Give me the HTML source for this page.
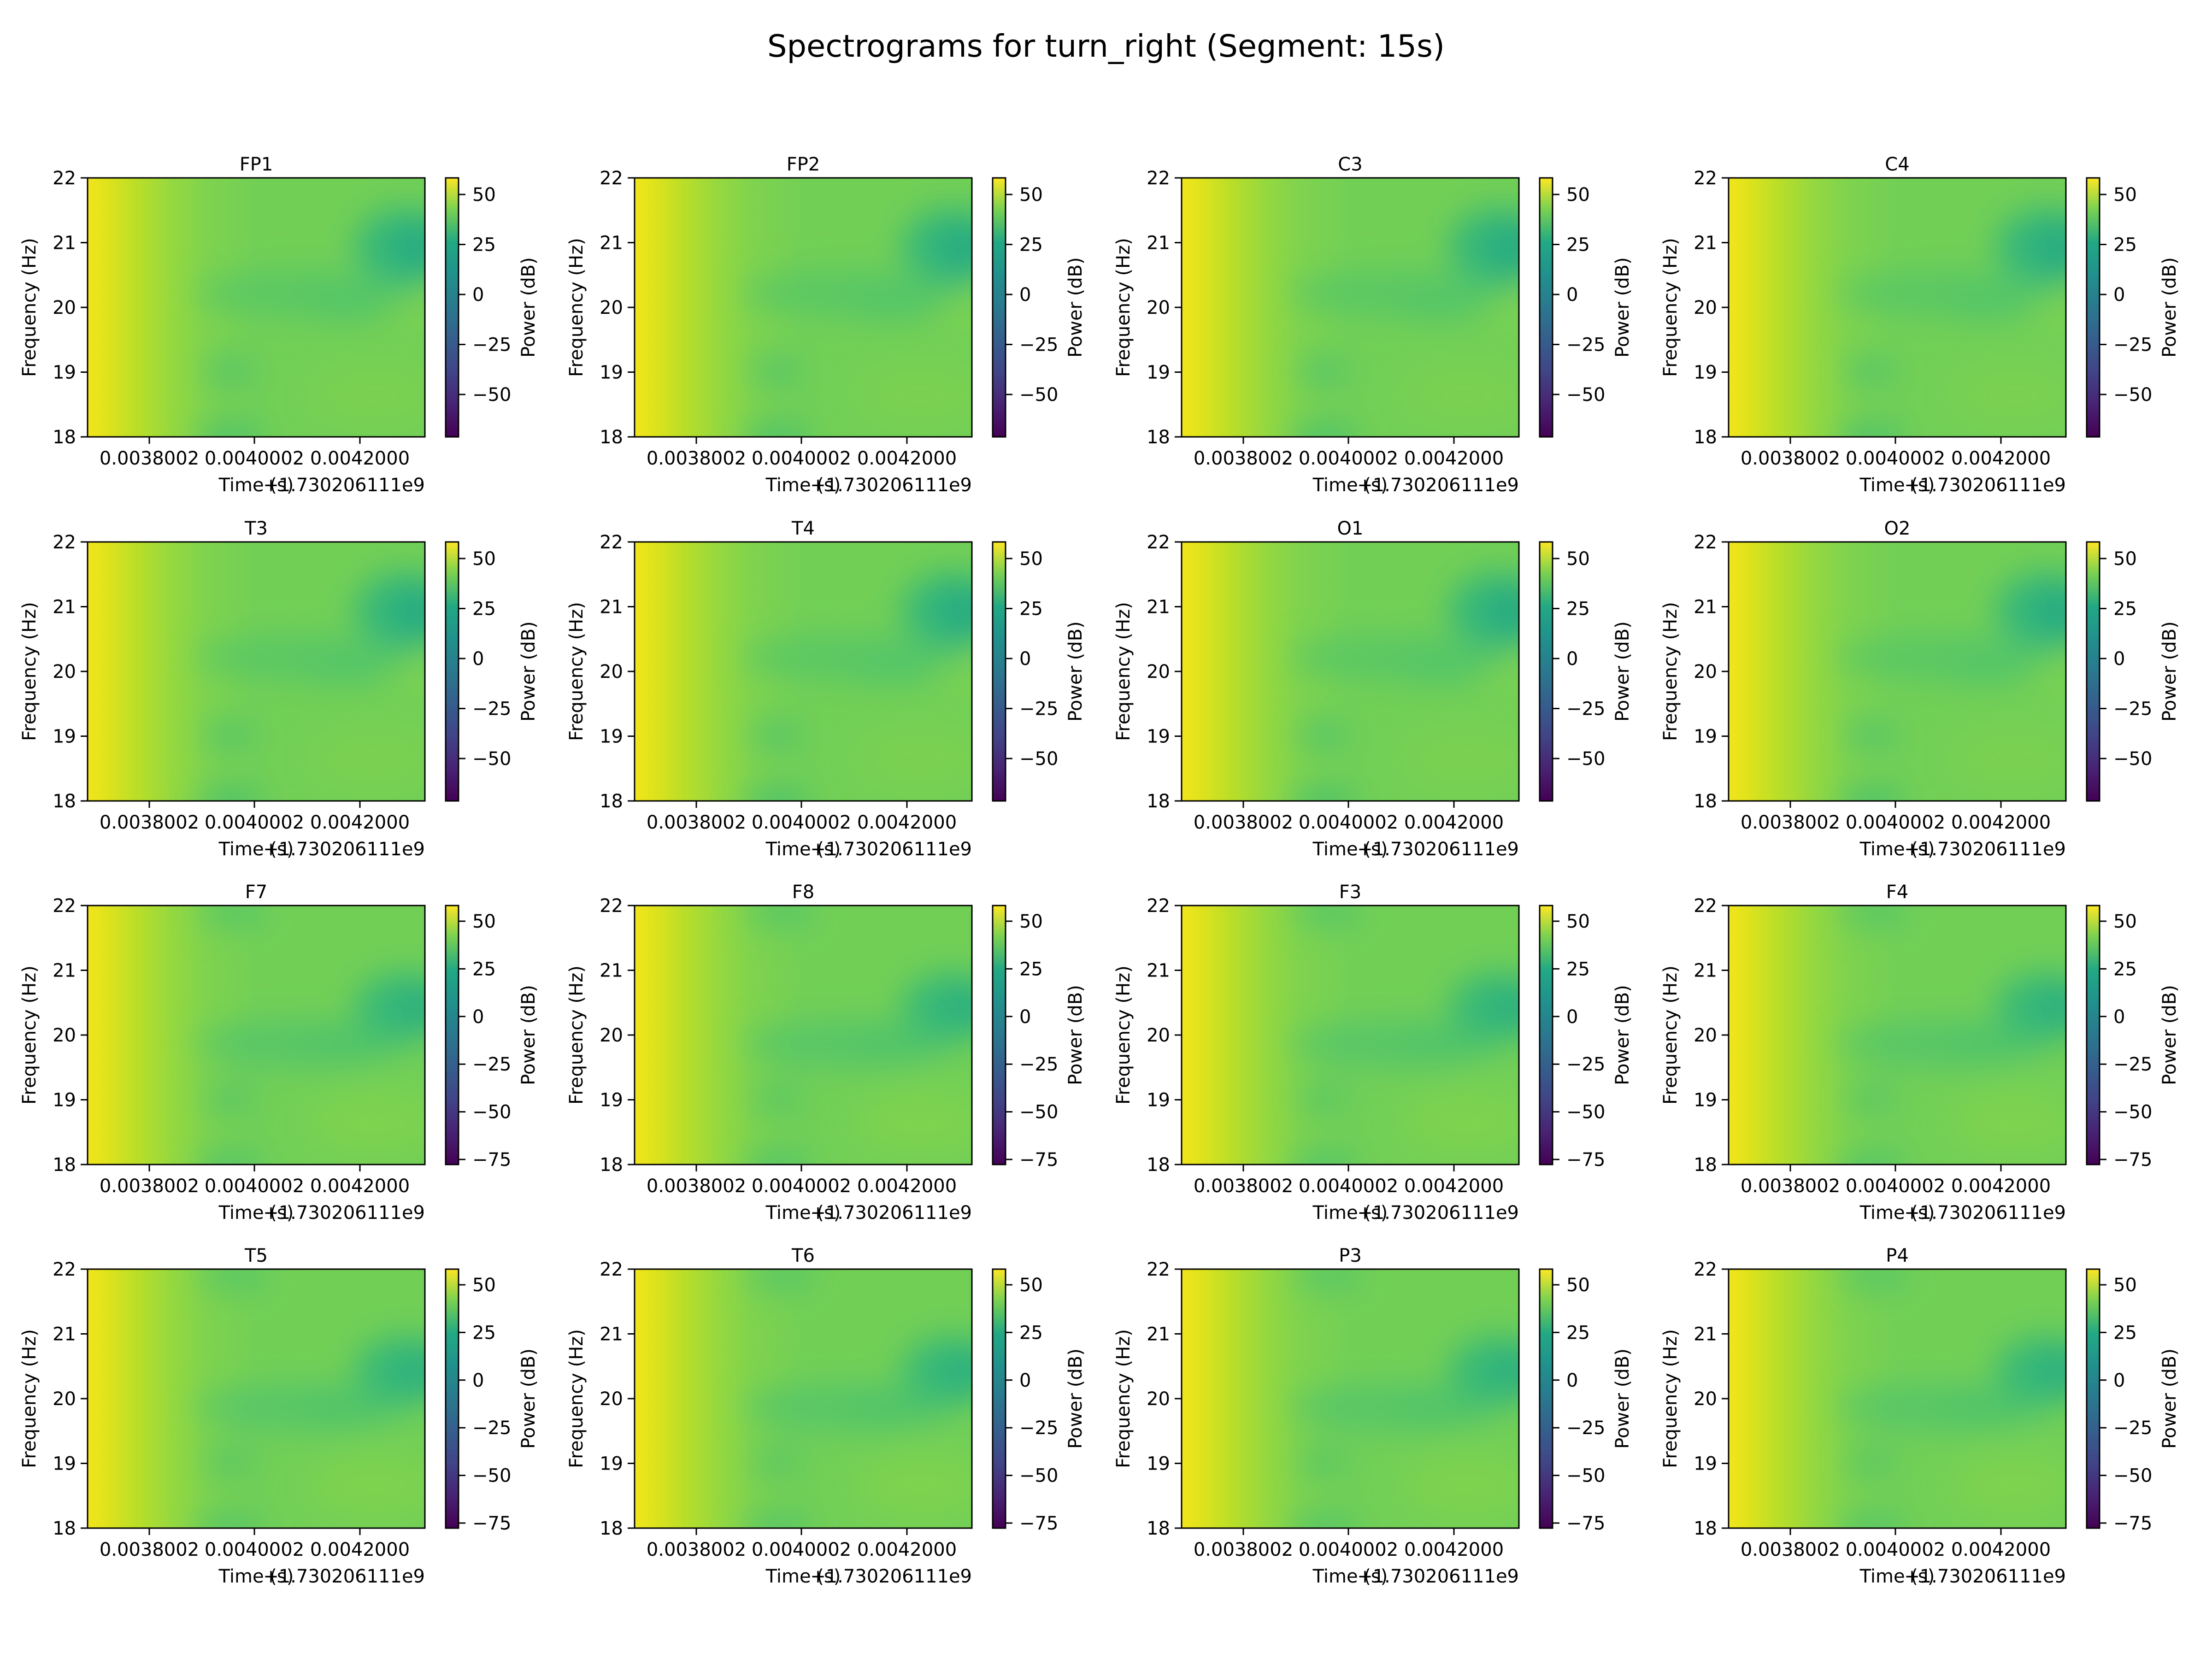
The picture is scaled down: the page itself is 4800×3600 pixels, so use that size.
<!DOCTYPE html>
<html><head><meta charset="utf-8"><style>
html,body{margin:0;padding:0;background:#fff}
svg{display:block}
text{font-family:"DejaVu Sans","Liberation Sans",sans-serif;fill:#000}
.t{font-size:40px}
</style></head><body>
<svg width="4800" height="3600" viewBox="0 0 4800 3600" xmlns="http://www.w3.org/2000/svg">
<defs>
<linearGradient id="base" x1="0" y1="0" x2="1" y2="0">
<stop offset="0" stop-color="#f2e51d"/><stop offset="0.05" stop-color="#e2e31b"/><stop offset="0.15" stop-color="#b8de29"/><stop offset="0.25" stop-color="#95d840"/><stop offset="0.35" stop-color="#7fd34e"/><stop offset="0.5" stop-color="#72cf56"/><stop offset="1" stop-color="#72cf56"/>
</linearGradient>
<linearGradient id="vir" x1="0" y1="1" x2="0" y2="0">
<stop offset="0" stop-color="#440154"/><stop offset="0.13" stop-color="#482475"/><stop offset="0.25" stop-color="#414487"/><stop offset="0.38" stop-color="#355f8d"/><stop offset="0.5" stop-color="#2a788e"/><stop offset="0.63" stop-color="#21918c"/><stop offset="0.75" stop-color="#22a884"/><stop offset="0.88" stop-color="#7ad151"/><stop offset="1" stop-color="#fde725"/>
</linearGradient>
<filter id="bl" x="-50%" y="-50%" width="200%" height="200%"><feGaussianBlur stdDeviation="35"/></filter>
<clipPath id="cp"><rect width="732" height="562"/></clipPath>
<g id="heatA">
<g clip-path="url(#cp)">
<rect width="732" height="562" fill="url(#base)"/>
<g filter="url(#bl)">
<ellipse cx="470" cy="250" rx="230" ry="50" fill="#5ac864"/>
<ellipse cx="560" cy="275" rx="90" ry="30" fill="#50c46a"/>
<ellipse cx="690" cy="150" rx="110" ry="85" fill="#35b779"/>
<ellipse cx="720" cy="150" rx="50" ry="50" fill="#22a884"/>
<ellipse cx="310" cy="420" rx="50" ry="40" fill="#55c667"/>
<ellipse cx="310" cy="565" rx="70" ry="35" fill="#4ac16d"/>
<ellipse cx="620" cy="470" rx="140" ry="70" fill="#7ad151"/>
<ellipse cx="720" cy="300" rx="40" ry="40" fill="#7ad151"/>
</g>
</g>
<rect width="732" height="562" fill="none" stroke="#000" stroke-width="3"/>
</g>
<g id="heatB">
<g clip-path="url(#cp)">
<rect width="732" height="562" fill="url(#base)"/>
<g filter="url(#bl)">
<ellipse cx="470" cy="300" rx="230" ry="50" fill="#56c667"/>
<ellipse cx="560" cy="300" rx="90" ry="30" fill="#4ec36b"/>
<ellipse cx="690" cy="220" rx="110" ry="75" fill="#38b977"/>
<ellipse cx="720" cy="220" rx="50" ry="45" fill="#29af7f"/>
<ellipse cx="310" cy="420" rx="50" ry="40" fill="#58c765"/>
<ellipse cx="310" cy="565" rx="70" ry="35" fill="#50c46a"/>
<ellipse cx="320" cy="10" rx="70" ry="40" fill="#58c765"/>
<ellipse cx="620" cy="470" rx="140" ry="70" fill="#7ed34f"/>
</g>
</g>
<rect width="732" height="562" fill="none" stroke="#000" stroke-width="3"/>
</g>
<g id="axes">
<path d="M0 0h-15M0 140.5h-15M0 281h-15M0 421.5h-15M0 562h-15M134 562v15M362 562v15M591 562v15" stroke="#000" stroke-width="3"/>
<rect x="777" y="0" width="28" height="562" fill="url(#vir)" stroke="#000" stroke-width="3"/>
</g>
<path id="cbA" d="M805 36h15M805 144.5h15M805 253h15M805 361.5h15M805 470h15" stroke="#000" stroke-width="3"/>
<path id="cbB" d="M805 34h15M805 137.4h15M805 240.8h15M805 344.2h15M805 447.6h15M805 551h15" stroke="#000" stroke-width="3"/>
<g id="lab">
<text class="t" x="-25" y="14" text-anchor="end">22</text>
<text class="t" x="-25" y="154.5" text-anchor="end">21</text>
<text class="t" x="-25" y="295" text-anchor="end">20</text>
<text class="t" x="-25" y="435.5" text-anchor="end">19</text>
<text class="t" x="-25" y="576" text-anchor="end">18</text>
<text class="t" x="134" y="622" text-anchor="middle">0.0038002</text>
<text class="t" x="362" y="622" text-anchor="middle">0.0040002</text>
<text class="t" x="591" y="622" text-anchor="middle">0.0042000</text>
<text class="t" x="366" y="680" text-anchor="middle">Time (s)</text>
<text class="t" x="732" y="680" text-anchor="end">+1.730206111e9</text>
<text class="t" transform="translate(-113 281) rotate(-90)" text-anchor="middle">Frequency (Hz)</text>
<text class="t" transform="translate(970 281) rotate(-90)" text-anchor="middle">Power (dB)</text>
</g>
<g id="lA">
<text class="t" x="835" y="50">50</text>
<text class="t" x="835" y="158.5">25</text>
<text class="t" x="835" y="267">0</text>
<text class="t" x="835" y="375.5">−25</text>
<text class="t" x="835" y="484">−50</text>
</g>
<g id="lB">
<text class="t" x="835" y="48">50</text>
<text class="t" x="835" y="151.4">25</text>
<text class="t" x="835" y="254.8">0</text>
<text class="t" x="835" y="358.2">−25</text>
<text class="t" x="835" y="461.6">−50</text>
<text class="t" x="835" y="565">−75</text>
</g>
</defs>
<text x="2400" y="123" text-anchor="middle" style="font-size:67px">Spectrograms for turn_right (Segment: 15s)</text>

<g transform="translate(190 386)"><use href="#heatA"/><use href="#axes"/><use href="#cbA"/><use href="#lab"/><use href="#lA"/><text class="t" x="366" y="-16" text-anchor="middle">FP1</text></g>
<g transform="translate(1377 386)"><use href="#heatA"/><use href="#axes"/><use href="#cbA"/><use href="#lab"/><use href="#lA"/><text class="t" x="366" y="-16" text-anchor="middle">FP2</text></g>
<g transform="translate(2564 386)"><use href="#heatA"/><use href="#axes"/><use href="#cbA"/><use href="#lab"/><use href="#lA"/><text class="t" x="366" y="-16" text-anchor="middle">C3</text></g>
<g transform="translate(3751 386)"><use href="#heatA"/><use href="#axes"/><use href="#cbA"/><use href="#lab"/><use href="#lA"/><text class="t" x="366" y="-16" text-anchor="middle">C4</text></g>

<g transform="translate(190 1176)"><use href="#heatA"/><use href="#axes"/><use href="#cbA"/><use href="#lab"/><use href="#lA"/><text class="t" x="366" y="-16" text-anchor="middle">T3</text></g>
<g transform="translate(1377 1176)"><use href="#heatA"/><use href="#axes"/><use href="#cbA"/><use href="#lab"/><use href="#lA"/><text class="t" x="366" y="-16" text-anchor="middle">T4</text></g>
<g transform="translate(2564 1176)"><use href="#heatA"/><use href="#axes"/><use href="#cbA"/><use href="#lab"/><use href="#lA"/><text class="t" x="366" y="-16" text-anchor="middle">O1</text></g>
<g transform="translate(3751 1176)"><use href="#heatA"/><use href="#axes"/><use href="#cbA"/><use href="#lab"/><use href="#lA"/><text class="t" x="366" y="-16" text-anchor="middle">O2</text></g>

<g transform="translate(190 1965)"><use href="#heatB"/><use href="#axes"/><use href="#cbB"/><use href="#lab"/><use href="#lB"/><text class="t" x="366" y="-16" text-anchor="middle">F7</text></g>
<g transform="translate(1377 1965)"><use href="#heatB"/><use href="#axes"/><use href="#cbB"/><use href="#lab"/><use href="#lB"/><text class="t" x="366" y="-16" text-anchor="middle">F8</text></g>
<g transform="translate(2564 1965)"><use href="#heatB"/><use href="#axes"/><use href="#cbB"/><use href="#lab"/><use href="#lB"/><text class="t" x="366" y="-16" text-anchor="middle">F3</text></g>
<g transform="translate(3751 1965)"><use href="#heatB"/><use href="#axes"/><use href="#cbB"/><use href="#lab"/><use href="#lB"/><text class="t" x="366" y="-16" text-anchor="middle">F4</text></g>

<g transform="translate(190 2754)"><use href="#heatB"/><use href="#axes"/><use href="#cbB"/><use href="#lab"/><use href="#lB"/><text class="t" x="366" y="-16" text-anchor="middle">T5</text></g>
<g transform="translate(1377 2754)"><use href="#heatB"/><use href="#axes"/><use href="#cbB"/><use href="#lab"/><use href="#lB"/><text class="t" x="366" y="-16" text-anchor="middle">T6</text></g>
<g transform="translate(2564 2754)"><use href="#heatB"/><use href="#axes"/><use href="#cbB"/><use href="#lab"/><use href="#lB"/><text class="t" x="366" y="-16" text-anchor="middle">P3</text></g>
<g transform="translate(3751 2754)"><use href="#heatB"/><use href="#axes"/><use href="#cbB"/><use href="#lab"/><use href="#lB"/><text class="t" x="366" y="-16" text-anchor="middle">P4</text></g>
</svg>
</body></html>
